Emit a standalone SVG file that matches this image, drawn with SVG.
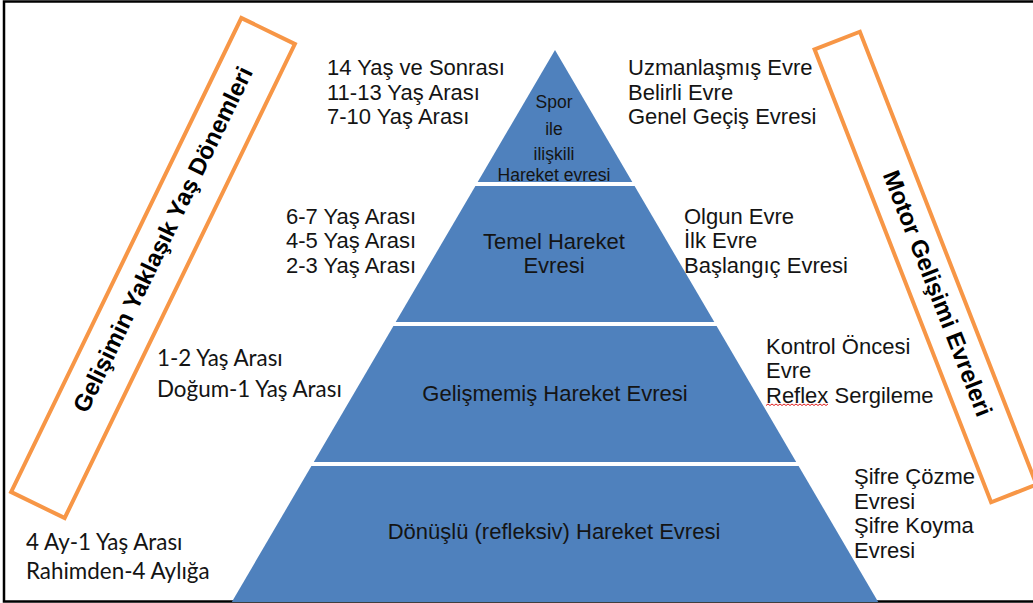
<svg xmlns="http://www.w3.org/2000/svg" width="1033" height="603" viewBox="0 0 1033 603">
  <style>
    .tier { fill: #4F81BD; }
    .t { font-family: "Liberation Sans", Arial, sans-serif; font-size: 22px; fill: #141414; }
    .tin { font-family: "Liberation Sans", Arial, sans-serif; font-size: 22px; fill: #141414; text-anchor: middle; }
    .tsm { font-family: "Liberation Sans", Arial, sans-serif; font-size: 17.5px; fill: #141414; text-anchor: middle; }
    .c { font-family: Lato, "Open Sans", sans-serif; font-size: 22.4px; fill: #141414; }
    .band { fill: #FFFFFF; stroke: #F79646; stroke-width: 4; }
    .bt { font-family: "Liberation Sans", Arial, sans-serif; font-size: 24px; font-weight: bold; fill: #000000; text-anchor: middle; dominant-baseline: central; }
  </style>
  <rect x="0" y="0" width="1033" height="603" fill="#FFFFFF"/>
  <rect x="4" y="1.5" width="1040" height="600" fill="none" stroke="#000000" stroke-width="2.5"/>

  <g id="tier-1">
    <polygon class="tier" points="555,50 632.3,182 477.7,182"/>
    <text class="tsm" x="554" y="108">Spor</text>
    <text class="tsm" x="554" y="135">ile</text>
    <text class="tsm" x="554" y="160">ilişkili</text>
    <text class="tsm" x="554" y="181">Hareket evresi</text>
  </g>
  <g id="tier-2">
    <polygon class="tier" points="475.4,186 634.6,186 714.3,322 395.7,322"/>
    <text class="tin" x="554" y="248.5">Temel Hareket</text>
    <text class="tin" x="554" y="273">Evresi</text>
  </g>
  <g id="tier-3">
    <polygon class="tier" points="393.4,326 716.6,326 796.2,462 313.8,462"/>
    <text class="tin" x="555" y="400.5">Gelişmemiş Hareket Evresi</text>
  </g>
  <g id="tier-4">
    <polygon class="tier" points="311.4,466 798.6,466 878.2,602 231.8,602"/>
    <text class="tin" x="554" y="539">Dönüşlü (refleksiv) Hareket Evresi</text>
  </g>

  <g id="age-left">
    <text class="t" x="327" y="75">14 Yaş ve Sonrası</text>
    <text class="t" x="327" y="99.5">11-13 Yaş Arası</text>
    <text class="t" x="327" y="124">7-10 Yaş Arası</text>
    <text class="t" x="286" y="223.5">6-7 Yaş Arası</text>
    <text class="t" x="286" y="248">4-5 Yaş Arası</text>
    <text class="t" x="286" y="272.5">2-3 Yaş Arası</text>
    <text class="c" x="157" y="366">1-2 Yaş Arası</text>
    <text class="c" x="157" y="396.5">Doğum-1 Yaş Arası</text>
    <text class="c" x="26" y="550">4 Ay-1 Yaş Arası</text>
    <text class="c" x="26" y="579">Rahimden-4 Aylığa</text>
  </g>

  <g id="motor-right">
    <text class="t" x="628" y="75">Uzmanlaşmış Evre</text>
    <text class="t" x="628" y="99.5">Belirli Evre</text>
    <text class="t" x="628" y="124">Genel Geçiş Evresi</text>
    <text class="t" x="684" y="223.5">Olgun Evre</text>
    <text class="t" x="684" y="248">İlk Evre</text>
    <text class="t" x="684" y="272.5">Başlangıç Evresi</text>
    <text class="t" x="766" y="353.5">Kontrol Öncesi</text>
    <text class="t" x="766" y="378">Evre</text>
    <text class="t" x="766" y="402.5">Reflex Sergileme</text>
    <path d="M766,405.5 l2,-1.5 l2,1.5 l2,-1.5 l2,1.5 l2,-1.5 l2,1.5 l2,-1.5 l2,1.5 l2,-1.5 l2,1.5 l2,-1.5 l2,1.5 l2,-1.5 l2,1.5 l2,-1.5 l2,1.5 l2,-1.5 l2,1.5 l2,-1.5 l2,1.5 l2,-1.5 l2,1.5 l2,-1.5 l2,1.5 l2,-1.5 l2,1.5 l2,-1.5 l2,1.5 l2,-1.5 l2,1.5 l2,-1.5" fill="none" stroke="#E02020" stroke-width="1"/>
    <text class="t" x="854" y="483.5">Şifre Çözme</text>
    <text class="t" x="854" y="508.5">Evresi</text>
    <text class="t" x="854" y="533">Şifre Koyma</text>
    <text class="t" x="854" y="558">Evresi</text>
  </g>

  <g id="label-age-periods" transform="translate(153,268) rotate(-64.1)">
    <rect class="band" x="-263.5" y="-29.75" width="527" height="59.5"/>
    <text class="bt" x="30" y="-4">Gelişimin Yaklaşık Yaş Dönemleri</text>
  </g>
  <g id="label-motor-stages" transform="translate(925.5,267) rotate(68.7)">
    <rect class="band" x="-243" y="-24.3" width="486" height="48.6"/>
    <text class="bt" x="29" y="-2">Motor Gelişimi Evreleri</text>
  </g>
</svg>
